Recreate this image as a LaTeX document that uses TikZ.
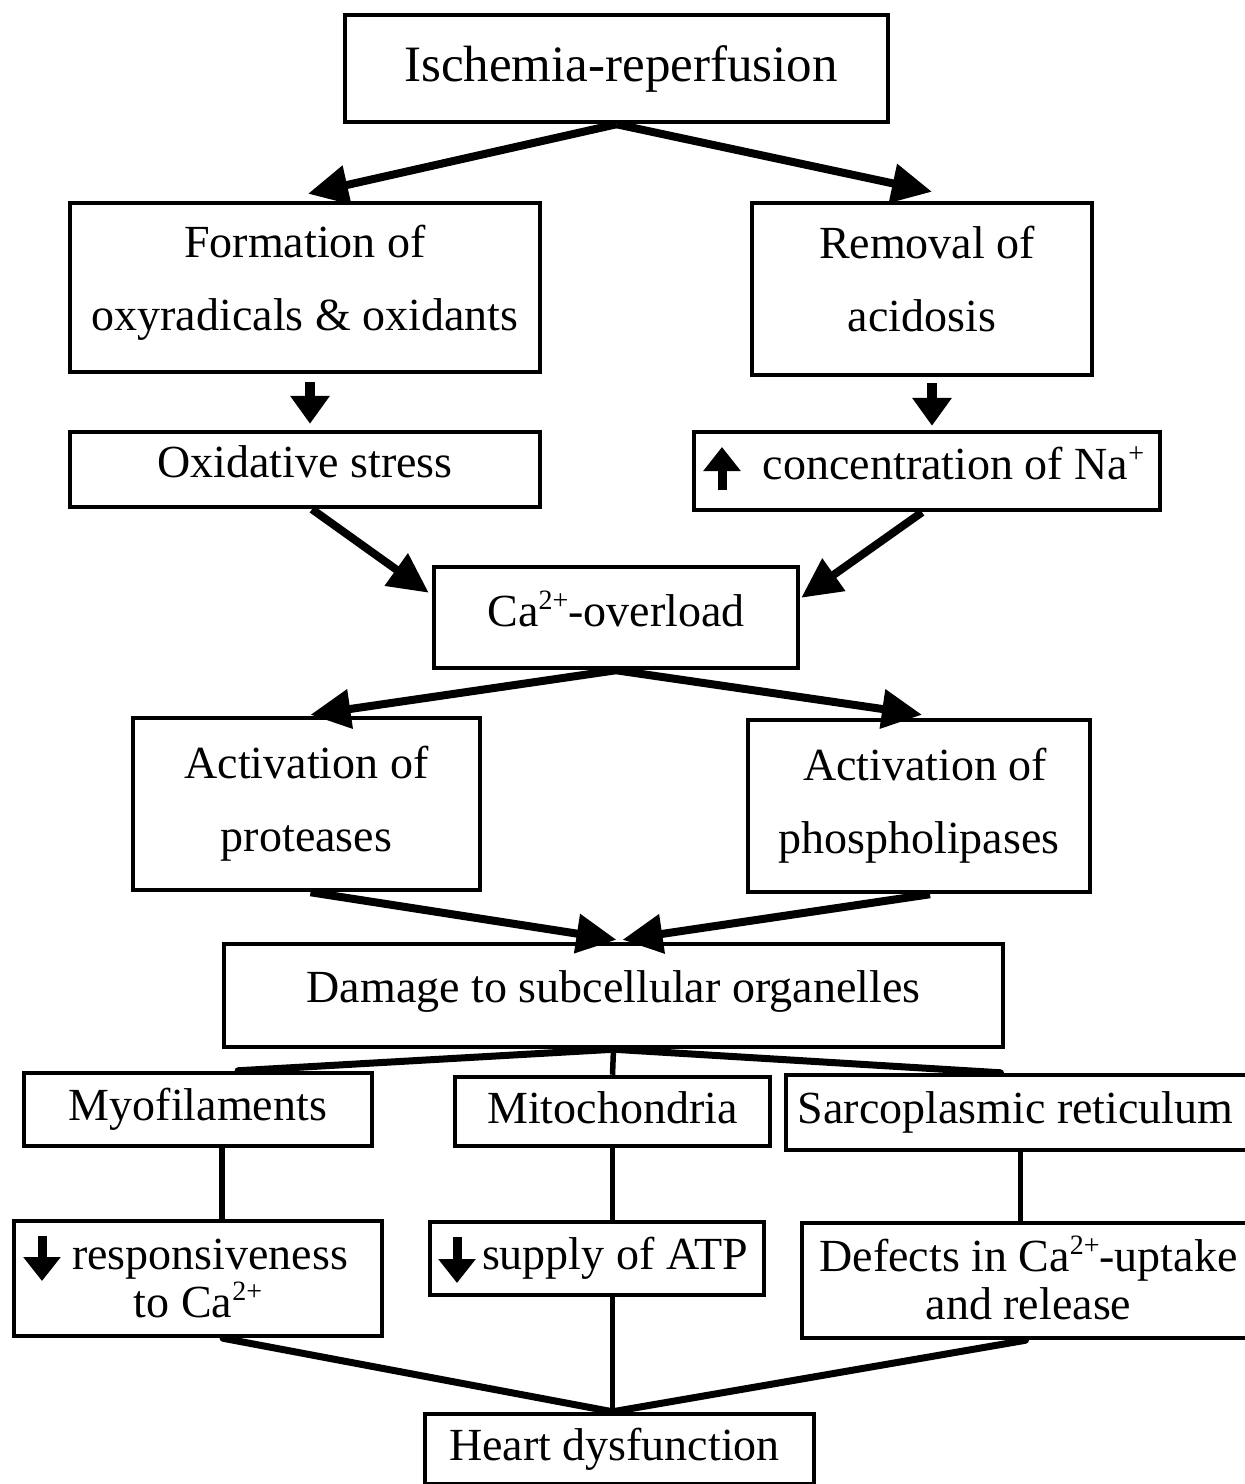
\documentclass[tikz,border=0pt]{standalone}
\usepackage{fontspec}
\setmainfont{Liberation Serif}
\usetikzlibrary{arrows.meta}
\newcommand\fsA{\fontsize{46pt}{73pt}\selectfont}
\newcommand\fsB{\fontsize{46pt}{48pt}\selectfont}
\newcommand\fsT{\fontsize{51pt}{60pt}\selectfont}
\newcommand\sups[1]{\raisebox{17pt}{\fontsize{28pt}{28pt}\selectfont #1}}
\tikzset{
  box/.style={draw, line width=4.5pt, inner sep=0pt, align=center, font=\fsA},
  conn/.style={line width=8pt, -{Triangle[length=40pt,width=38pt]}},
  downarrow/.style={line width=10pt, -{Triangle[length=28pt,width=38pt]}},
  icon/.style={line width=9pt, -{Triangle[length=24pt,width=36pt]}},
  fan/.style={line width=7pt, line cap=round},
  vline/.style={line width=5.5pt}
}
\begin{document}
\begin{tikzpicture}[x=1pt,y=-1pt]
\useasboundingbox (0,0) rectangle (1245,1484);
% boxes
\node[box, font=\fsT, minimum width=543pt, minimum height=107pt] (isch) at (616.5,68.5) {\hspace{9pt}Ischemia-reperfusion\rule[-8pt]{0pt}{0pt}};
\node[box, minimum width=470pt, minimum height=169pt] (form) at (305,287.5) {Formation of\\oxyradicals \& oxidants\rule[-20pt]{0pt}{0pt}};
\node[box, minimum width=340pt, minimum height=172pt] (remo) at (922,289) {\hspace{10pt}Removal of\\acidosis\rule[-20pt]{0pt}{0pt}};
\node[box, minimum width=470pt, minimum height=75pt] (oxid) at (305,469.5) {Oxidative stress\rule[-16pt]{0pt}{0pt}};
\node[box, minimum width=466pt, minimum height=78pt] (sodium) at (927,471) {\hspace{53pt}concentration of Na\sups{+}\rule[-16pt]{0pt}{0pt}};
\node[box, minimum width=364pt, minimum height=101pt] (ca) at (616,617.5) {Ca\sups{2+}-overload\rule[-18pt]{0pt}{0pt}};
\node[box, minimum width=347pt, minimum height=172pt] (prot) at (306.5,804) {Activation of\\proteases};
\node[box, minimum width=342pt, minimum height=172pt] (phos) at (919,806) {\hspace{12pt}Activation of\\phospholipases};
\node[box, minimum width=779pt, minimum height=103pt] (dmg) at (613.5,995.5) {Damage to subcellular organelles\rule[-18pt]{0pt}{0pt}};
\node[box, minimum width=348pt, minimum height=73pt] (myo) at (198,1109.5) {Myofilaments};
\node[box, minimum width=315pt, minimum height=69pt] (mito) at (612.5,1111.5) {Mitochondria\rule[-8pt]{0pt}{0pt}};
\node[box, minimum width=469pt, minimum height=75pt] (sarc) at (1020.5,1112.5) {Sarcoplasmic reticulum\hspace{10pt}};
\node[box, font=\fsB, minimum width=368pt, minimum height=115pt] (resp) at (198,1278.5) {\hspace{24pt}responsiveness\\to Ca\sups{2+}};
\node[box, minimum width=334pt, minimum height=73pt] (atp) at (597,1258.5) {\hspace{36pt}supply of ATP};
\node[box, font=\fsB, minimum width=453pt, minimum height=115pt] (defe) at (1028.5,1280.5) {Defects in Ca\sups{2+}-uptake\hspace{10pt}\\and release\rule[-6pt]{0pt}{0pt}};
\node[box, minimum width=389pt, minimum height=70pt] (heart) at (619.5,1449) {Heart dysfunction\hspace{10pt}};
% inline arrow icons
\draw[icon] (722,490) -- (722,447);
\draw[icon] (42,1236) -- (42,1281);
\draw[icon] (457,1237) -- (457,1283);
% connectors
\draw[conn] (isch.south) -- ([xshift=3pt,yshift=7pt]form.north);
\draw[conn] (isch.south) -- ([xshift=10pt,yshift=9pt]remo.north);
\draw[downarrow] ([xshift=5pt,yshift=-8pt]form.south) -- ([xshift=5pt,yshift=6pt]oxid.north);
\draw[downarrow] ([xshift=10pt,yshift=-6pt]remo.south) -- ([xshift=5pt,yshift=4pt]sodium.north);
\draw[conn] ([xshift=7pt]oxid.south) -- ([xshift=-3pt,yshift=-28pt]ca.north west);
\draw[conn] ([xshift=-5pt]sodium.south) -- ([xshift=1pt,yshift=-33pt]ca.north east);
\draw[conn] (ca.south) -- ([xshift=4pt,yshift=1pt]prot.north);
\draw[conn] (ca.south) -- ([xshift=3pt,yshift=3pt]phos.north);
\draw[conn] ([xshift=4pt]prot.south) -- ([xshift=3pt,yshift=2pt]dmg.north);
\draw[conn] ([xshift=11pt]phos.south) -- ([xshift=9pt,yshift=2pt]dmg.north);
% fan to organelles
\draw[fan] (dmg.south) -- ([xshift=40pt]myo.north);
\draw[vline] (dmg.south) -- (mito.north);
\draw[fan] (dmg.south) -- ([xshift=-20pt]sarc.north);
% columns
\draw[vline] ([xshift=24pt]myo.south) -- ([xshift=24pt]resp.north);
\draw[vline] (mito.south) -- (mito.south |- atp.north);
\draw[vline] (sarc.south) -- (sarc.south |- defe.north);
\coordinate (hj) at (mito.south |- heart.north);
\draw[vline] (mito.south |- atp.south) -- (hj);
\draw[fan] ([xshift=25pt]resp.south) -- (hj);
\draw[fan] ([xshift=-3pt]defe.south) -- (hj);
\end{tikzpicture}
\end{document}
